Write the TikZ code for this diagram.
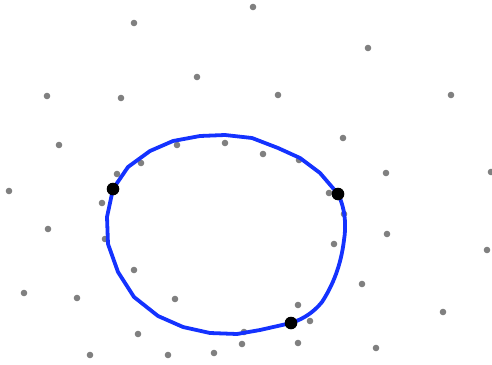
\documentclass[tikz,border=0pt]{standalone}
\begin{document}
\begin{tikzpicture}[x=1pt,y=-1pt,
  graydot/.style={fill=gray},
  hull/.style={draw={rgb,255:red,20;green,50;blue,255},line width=3.8pt,line join=round,line cap=round},
  blackdot/.style={fill=black}]
\useasboundingbox (0,0) rectangle (492,364);
% scattered points
\foreach \p in {(134,23),(197,77),(47,96),(121,98),(59,145),(177,145),(225,143),(141,163),(117,174),
  (253,7),(368,48),(278,95),(451,95),(343,138),(263,154),(299,160),(386,173),(491,172),
  (9,191),(102,203),(48,229),(105,239),(134,270),(24,293),(77,298),(175,299),(138,334),(90,355),(168,355),(214,353),(242,344),(244,332),
  (329,193),(344,214),(387,234),(487,250),(334,244),(362,284),(298,305),(310,321),(298,343),(376,348),(443,312)}
  \fill[graydot] \p circle (3.3);
% curve
\draw[hull] (113,189) -- (128,167) -- (150,151) -- (173,141) -- (200,136) -- (225,135) -- (252,138) -- (278,148) -- (300,158) -- (320,173) -- (338,194)
  .. controls (346,210) and (346,228) .. (344,240)
  .. controls (341,265) and (333,285) .. (322,302)
  .. controls (313,313) and (303,319) .. (291,323)
  -- (260,330) -- (237,334) -- (210,333) -- (183,327) -- (158,316) -- (134,297) -- (118,272) -- (108,244) -- (107,217) -- cycle;
% marked points
\fill[blackdot] (113,189) circle (6.3);
\fill[blackdot] (338,194) circle (6.3);
\fill[blackdot] (291,323) circle (6.3);
\end{tikzpicture}
\end{document}
